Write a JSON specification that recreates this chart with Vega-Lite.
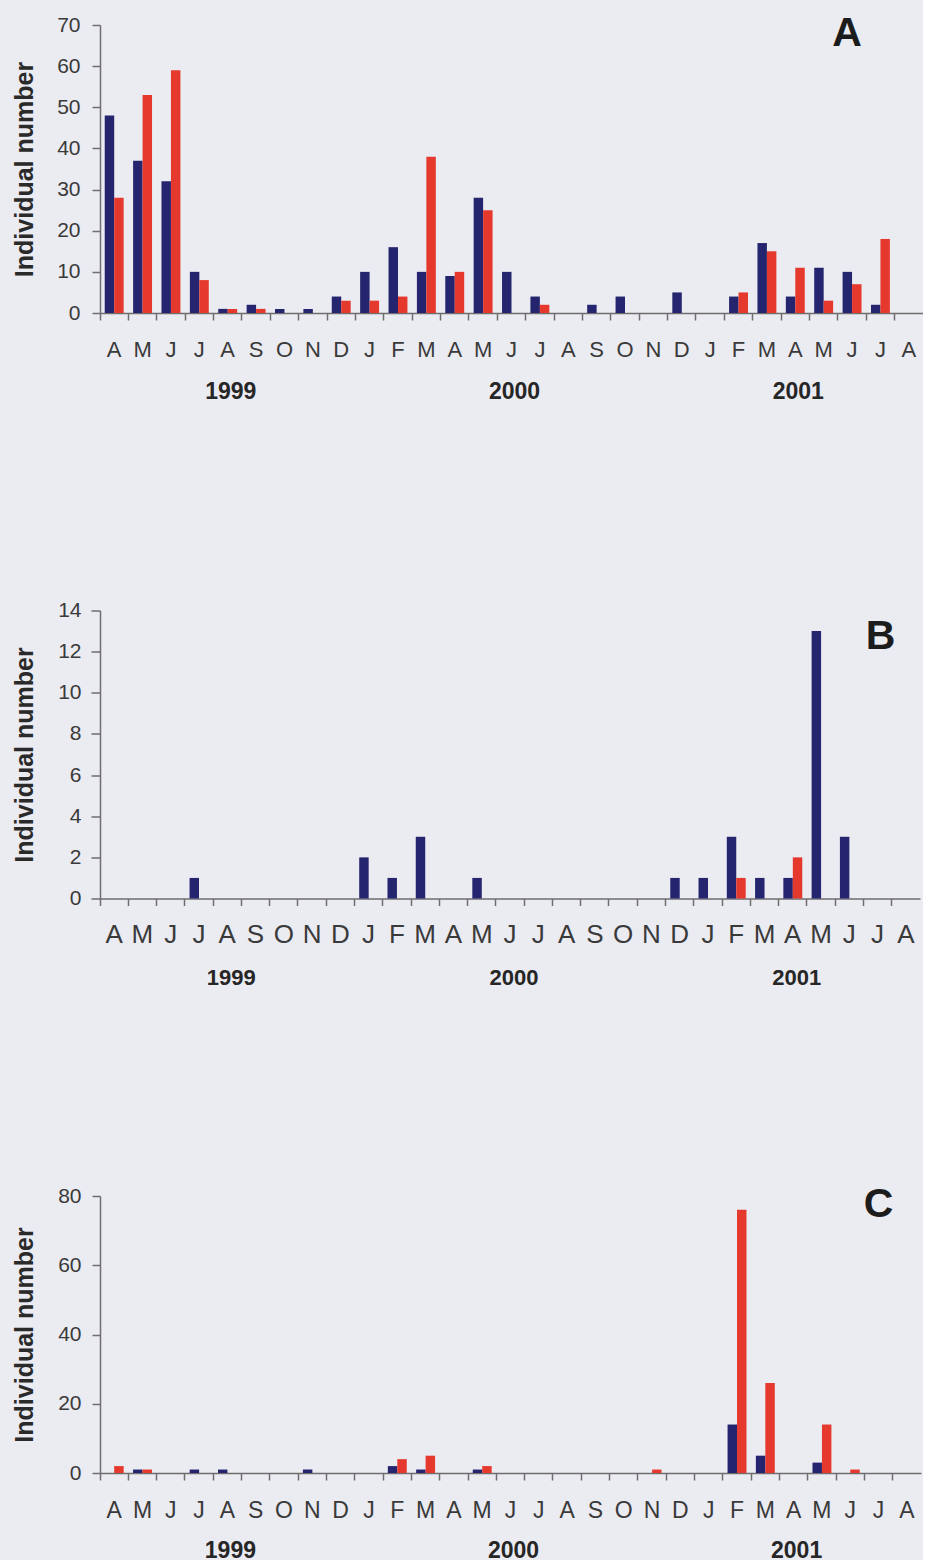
{
  "$schema": "https://vega.github.io/schema/vega-lite/v6.json",
  "background": "#ebebf2",
  "padding": {"left": 12, "top": 12, "right": 0, "bottom": 0},
  "config": {
    "font": "Liberation Sans",
    "view": {"stroke": null},
    "axis": {"grid": false, "domainColor": "#6e6e6e", "tickColor": "#6e6e6e", "domainWidth": 1.5, "tickWidth": 1.5, "labelColor": "#3a3a3a", "titleColor": "#2a2a2a"}
  },
  "datasets": {
    "counts": [
      {"panel": "A", "month": "1999-04", "sex": "male", "n": 48},
      {"panel": "A", "month": "1999-04", "sex": "female", "n": 28},
      {"panel": "A", "month": "1999-05", "sex": "male", "n": 37},
      {"panel": "A", "month": "1999-05", "sex": "female", "n": 53},
      {"panel": "A", "month": "1999-06", "sex": "male", "n": 32},
      {"panel": "A", "month": "1999-06", "sex": "female", "n": 59},
      {"panel": "A", "month": "1999-07", "sex": "male", "n": 10},
      {"panel": "A", "month": "1999-07", "sex": "female", "n": 8},
      {"panel": "A", "month": "1999-08", "sex": "male", "n": 1},
      {"panel": "A", "month": "1999-08", "sex": "female", "n": 1},
      {"panel": "A", "month": "1999-09", "sex": "male", "n": 2},
      {"panel": "A", "month": "1999-09", "sex": "female", "n": 1},
      {"panel": "A", "month": "1999-10", "sex": "male", "n": 1},
      {"panel": "A", "month": "1999-11", "sex": "male", "n": 1},
      {"panel": "A", "month": "1999-12", "sex": "male", "n": 4},
      {"panel": "A", "month": "1999-12", "sex": "female", "n": 3},
      {"panel": "A", "month": "2000-01", "sex": "male", "n": 10},
      {"panel": "A", "month": "2000-01", "sex": "female", "n": 3},
      {"panel": "A", "month": "2000-02", "sex": "male", "n": 16},
      {"panel": "A", "month": "2000-02", "sex": "female", "n": 4},
      {"panel": "A", "month": "2000-03", "sex": "male", "n": 10},
      {"panel": "A", "month": "2000-03", "sex": "female", "n": 38},
      {"panel": "A", "month": "2000-04", "sex": "male", "n": 9},
      {"panel": "A", "month": "2000-04", "sex": "female", "n": 10},
      {"panel": "A", "month": "2000-05", "sex": "male", "n": 28},
      {"panel": "A", "month": "2000-05", "sex": "female", "n": 25},
      {"panel": "A", "month": "2000-06", "sex": "male", "n": 10},
      {"panel": "A", "month": "2000-07", "sex": "male", "n": 4},
      {"panel": "A", "month": "2000-07", "sex": "female", "n": 2},
      {"panel": "A", "month": "2000-09", "sex": "male", "n": 2},
      {"panel": "A", "month": "2000-10", "sex": "male", "n": 4},
      {"panel": "A", "month": "2000-12", "sex": "male", "n": 5},
      {"panel": "A", "month": "2001-02", "sex": "male", "n": 4},
      {"panel": "A", "month": "2001-02", "sex": "female", "n": 5},
      {"panel": "A", "month": "2001-03", "sex": "male", "n": 17},
      {"panel": "A", "month": "2001-03", "sex": "female", "n": 15},
      {"panel": "A", "month": "2001-04", "sex": "male", "n": 4},
      {"panel": "A", "month": "2001-04", "sex": "female", "n": 11},
      {"panel": "A", "month": "2001-05", "sex": "male", "n": 11},
      {"panel": "A", "month": "2001-05", "sex": "female", "n": 3},
      {"panel": "A", "month": "2001-06", "sex": "male", "n": 10},
      {"panel": "A", "month": "2001-06", "sex": "female", "n": 7},
      {"panel": "A", "month": "2001-07", "sex": "male", "n": 2},
      {"panel": "A", "month": "2001-07", "sex": "female", "n": 18},
      {"panel": "B", "month": "1999-07", "sex": "male", "n": 1},
      {"panel": "B", "month": "2000-01", "sex": "male", "n": 2},
      {"panel": "B", "month": "2000-02", "sex": "male", "n": 1},
      {"panel": "B", "month": "2000-03", "sex": "male", "n": 3},
      {"panel": "B", "month": "2000-05", "sex": "male", "n": 1},
      {"panel": "B", "month": "2000-12", "sex": "male", "n": 1},
      {"panel": "B", "month": "2001-01", "sex": "male", "n": 1},
      {"panel": "B", "month": "2001-02", "sex": "male", "n": 3},
      {"panel": "B", "month": "2001-02", "sex": "female", "n": 1},
      {"panel": "B", "month": "2001-03", "sex": "male", "n": 1},
      {"panel": "B", "month": "2001-04", "sex": "male", "n": 1},
      {"panel": "B", "month": "2001-04", "sex": "female", "n": 2},
      {"panel": "B", "month": "2001-05", "sex": "male", "n": 13},
      {"panel": "B", "month": "2001-06", "sex": "male", "n": 3},
      {"panel": "C", "month": "1999-04", "sex": "female", "n": 2},
      {"panel": "C", "month": "1999-05", "sex": "male", "n": 1},
      {"panel": "C", "month": "1999-05", "sex": "female", "n": 1},
      {"panel": "C", "month": "1999-07", "sex": "male", "n": 1},
      {"panel": "C", "month": "1999-08", "sex": "male", "n": 1},
      {"panel": "C", "month": "1999-11", "sex": "male", "n": 1},
      {"panel": "C", "month": "2000-02", "sex": "male", "n": 2},
      {"panel": "C", "month": "2000-02", "sex": "female", "n": 4},
      {"panel": "C", "month": "2000-03", "sex": "male", "n": 1},
      {"panel": "C", "month": "2000-03", "sex": "female", "n": 5},
      {"panel": "C", "month": "2000-05", "sex": "male", "n": 1},
      {"panel": "C", "month": "2000-05", "sex": "female", "n": 2},
      {"panel": "C", "month": "2000-11", "sex": "female", "n": 1},
      {"panel": "C", "month": "2001-02", "sex": "male", "n": 14},
      {"panel": "C", "month": "2001-02", "sex": "female", "n": 76},
      {"panel": "C", "month": "2001-03", "sex": "male", "n": 5},
      {"panel": "C", "month": "2001-03", "sex": "female", "n": 26},
      {"panel": "C", "month": "2001-05", "sex": "male", "n": 3},
      {"panel": "C", "month": "2001-05", "sex": "female", "n": 14},
      {"panel": "C", "month": "2001-06", "sex": "female", "n": 1}
    ],
    "years": [
      {"year": "1999", "month": "1999-08"},
      {"year": "2000", "month": "2000-06"},
      {"year": "2001", "month": "2001-04"}
    ]
  },
  "concat": [
    {
      "width": 823,
      "height": 288,
      "layer": [
        {
          "data": {"name": "counts"},
          "transform": [{"filter": "datum.panel === 'A'"}],
          "mark": {"type": "bar"},
          "encoding": {
            "x": {
              "field": "month", "type": "ordinal",
              "scale": {"domain": ["1999-04","1999-05","1999-06","1999-07","1999-08","1999-09","1999-10","1999-11","1999-12","2000-01","2000-02","2000-03","2000-04","2000-05","2000-06","2000-07","2000-08","2000-09","2000-10","2000-11","2000-12","2001-01","2001-02","2001-03","2001-04","2001-05","2001-06","2001-07","2001-08"], "paddingInner": 0, "paddingOuter": 0},
              "axis": {"title": null, "labelAngle": 0, "bandPosition": 0, "tickSize": 7, "labelPadding": 19, "labelFontSize": 22, "labelExpr": "isString(datum.value) ? slice('JFMAMJJASOND', toNumber(slice(datum.value, 5, 7)) - 1, toNumber(slice(datum.value, 5, 7))) : ''"}
            },
            "xOffset": {"field": "sex", "type": "nominal", "scale": {"domain": ["male", "female"], "paddingInner": 0, "paddingOuter": 0.5}},
            "y": {
              "field": "n", "type": "quantitative",
              "scale": {"domain": [0, 70], "nice": false},
              "axis": {"title": "Individual number", "values": [0,10,20,30,40,50,60,70], "tickSize": 8, "labelPadding": 12, "labelFontSize": 21, "titleFontSize": 25, "titleFontWeight": "bold", "titlePadding": 19.5}
            },
            "color": {"field": "sex", "type": "nominal", "scale": {"domain": ["male", "female"], "range": ["#24246f", "#e6392d"]}, "legend": null}
          }
        },
        {
          "data": {"name": "years"},
          "mark": {"type": "text", "fontSize": 23, "fontWeight": "bold", "baseline": "alphabetic", "align": "center", "color": "#262626", "dx": 3},
          "encoding": {
            "text": {"field": "year"},
            "x": {"field": "month", "type": "ordinal"},
            "y": {"datum": -21, "type": "quantitative"}
          }
        },
        {
          "data": {"values": [{"label": "A", "month": "2001-06"}]},
          "mark": {"type": "text", "fontSize": 41, "fontWeight": "bold", "baseline": "alphabetic", "align": "center", "color": "#1c1c1c", "dx": -5},
          "encoding": {
            "text": {"field": "label"},
            "x": {"field": "month", "type": "ordinal"},
            "y": {"datum": 65, "type": "quantitative"}
          }
        }
      ]
    },
    {
      "width": 820,
      "height": 288,
      "layer": [
        {
          "data": {"name": "counts"},
          "transform": [{"filter": "datum.panel === 'B'"}],
          "mark": {"type": "bar"},
          "encoding": {
            "x": {
              "field": "month", "type": "ordinal",
              "scale": {"domain": ["1999-04","1999-05","1999-06","1999-07","1999-08","1999-09","1999-10","1999-11","1999-12","2000-01","2000-02","2000-03","2000-04","2000-05","2000-06","2000-07","2000-08","2000-09","2000-10","2000-11","2000-12","2001-01","2001-02","2001-03","2001-04","2001-05","2001-06","2001-07","2001-08"], "paddingInner": 0, "paddingOuter": 0},
              "axis": {"title": null, "labelAngle": 0, "bandPosition": 0, "tickSize": 7, "labelPadding": 16, "labelFontSize": 26, "labelExpr": "isString(datum.value) ? slice('JFMAMJJASOND', toNumber(slice(datum.value, 5, 7)) - 1, toNumber(slice(datum.value, 5, 7))) : ''"}
            },
            "xOffset": {"field": "sex", "type": "nominal", "scale": {"domain": ["male", "female"], "paddingInner": 0, "paddingOuter": 0.5}},
            "y": {
              "field": "n", "type": "quantitative",
              "scale": {"domain": [0, 14], "nice": false},
              "axis": {"title": "Individual number", "values": [0,2,4,6,8,10,12,14], "tickSize": 9, "labelPadding": 10, "labelFontSize": 21, "titleFontSize": 25, "titleFontWeight": "bold", "titlePadding": 20.5}
            },
            "color": {"field": "sex", "type": "nominal", "scale": {"domain": ["male", "female"], "range": ["#24246f", "#e6392d"]}, "legend": null}
          }
        },
        {
          "data": {"name": "years"},
          "mark": {"type": "text", "fontSize": 22, "fontWeight": "bold", "baseline": "alphabetic", "align": "center", "color": "#262626", "dx": 4},
          "encoding": {
            "text": {"field": "year"},
            "x": {"field": "month", "type": "ordinal"},
            "y": {"datum": -4.22, "type": "quantitative"}
          }
        },
        {
          "data": {"values": [{"label": "B", "month": "2001-07"}]},
          "mark": {"type": "text", "fontSize": 41, "fontWeight": "bold", "baseline": "alphabetic", "align": "center", "color": "#1c1c1c", "dx": 3},
          "encoding": {
            "text": {"field": "label"},
            "x": {"field": "month", "type": "ordinal"},
            "y": {"datum": 12.15, "type": "quantitative"}
          }
        }
      ]
    },
    {
      "width": 821,
      "height": 277,
      "layer": [
        {
          "data": {"name": "counts"},
          "transform": [{"filter": "datum.panel === 'C'"}],
          "mark": {"type": "bar"},
          "encoding": {
            "x": {
              "field": "month", "type": "ordinal",
              "scale": {"domain": ["1999-04","1999-05","1999-06","1999-07","1999-08","1999-09","1999-10","1999-11","1999-12","2000-01","2000-02","2000-03","2000-04","2000-05","2000-06","2000-07","2000-08","2000-09","2000-10","2000-11","2000-12","2001-01","2001-02","2001-03","2001-04","2001-05","2001-06","2001-07","2001-08"], "paddingInner": 0, "paddingOuter": 0},
              "axis": {"title": null, "labelAngle": 0, "bandPosition": 0, "tickSize": 7, "labelPadding": 19, "labelFontSize": 23, "labelExpr": "isString(datum.value) ? slice('JFMAMJJASOND', toNumber(slice(datum.value, 5, 7)) - 1, toNumber(slice(datum.value, 5, 7))) : ''"}
            },
            "xOffset": {"field": "sex", "type": "nominal", "scale": {"domain": ["male", "female"], "paddingInner": 0, "paddingOuter": 0.5}},
            "y": {
              "field": "n", "type": "quantitative",
              "scale": {"domain": [0, 80], "nice": false},
              "axis": {"title": "Individual number", "values": [0,10,20,30,40,50,60,70,80], "tickSize": 8, "labelPadding": 11, "labelFontSize": 21, "titleFontSize": 25, "titleFontWeight": "bold", "titlePadding": 20.5}
            },
            "color": {"field": "sex", "type": "nominal", "scale": {"domain": ["male", "female"], "range": ["#24246f", "#e6392d"]}, "legend": null}
          }
        },
        {
          "data": {"name": "years"},
          "mark": {"type": "text", "fontSize": 23, "fontWeight": "bold", "baseline": "alphabetic", "align": "center", "color": "#262626", "dx": 3},
          "encoding": {
            "text": {"field": "year"},
            "x": {"field": "month", "type": "ordinal"},
            "y": {"datum": -24.5, "type": "quantitative"}
          }
        },
        {
          "data": {"values": [{"label": "C", "month": "2001-07"}]},
          "mark": {"type": "text", "fontSize": 41, "fontWeight": "bold", "baseline": "alphabetic", "align": "center", "color": "#1c1c1c"},
          "encoding": {
            "text": {"field": "label"},
            "x": {"field": "month", "type": "ordinal"},
            "y": {"datum": 73.9, "type": "quantitative"}
          }
        }
      ]
    }
  ],
  "columns": 1,
  "align": "none",
  "bounds": "full",
  "spacing": {"row": 194.5, "column": 0}
}
